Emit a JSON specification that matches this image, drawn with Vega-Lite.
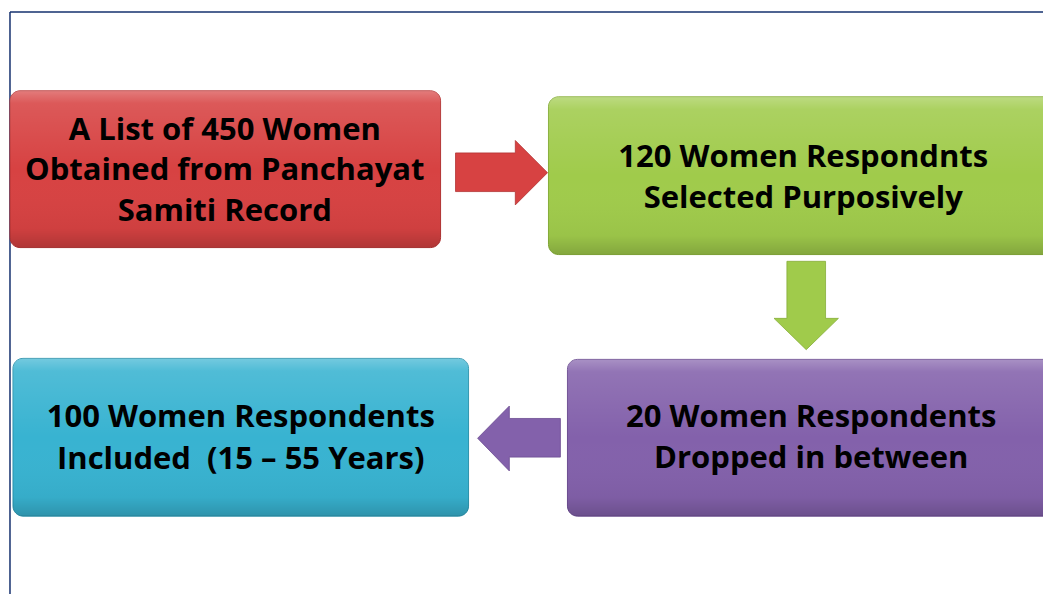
{
  "$schema": "https://vega.github.io/schema/vega-lite/v6.json",
  "width": 1044,
  "height": 595,
  "autosize": {"type": "fit", "contains": "padding"},
  "padding": 0,
  "background": "white",
  "config": {"view": {"stroke": null}},
  "datasets": {
    "boxes": [
      {"box": "red", "x0": 10, "x1": 441, "y0": 91, "y1": 248},
      {"box": "green", "x0": 549, "x1": 1064, "y0": 97, "y1": 255},
      {"box": "purple", "x0": 568, "x1": 1064, "y0": 360, "y1": 517},
      {"box": "blue", "x0": 13, "x1": 469, "y0": 359, "y1": 517}
    ],
    "arrows": [
      {"box": "red", "dir": "right", "x": 502, "y": 173},
      {"box": "green", "dir": "down", "x": 807, "y": 306},
      {"box": "purple", "dir": "left", "x": 519.5, "y": 439}
    ],
    "frame": [
      {"x": 10, "y": 12, "x2": 1044, "y2": 12},
      {"x": 10, "y": 12, "x2": 10, "y2": 595}
    ],
    "labels": [
      {"t": "A List of 450 Women", "x": 225, "y": 129},
      {"t": "Obtained from Panchayat", "x": 225, "y": 169},
      {"t": "Samiti Record", "x": 225, "y": 210},
      {"t": "120 Women Respondnts", "x": 804, "y": 156},
      {"t": "Selected Purposively", "x": 804, "y": 197},
      {"t": "20 Women Respondents", "x": 812, "y": 417},
      {"t": "Dropped in between", "x": 812, "y": 458},
      {"t": "100 Women Respondents", "x": 241, "y": 417},
      {"t": "Included \u00a0(15 – 55 Years)", "x": 241, "y": 459}
    ]
  },
  "layer": [
    {
      "data": {"name": "frame"},
      "mark": {"type": "rule", "color": "#15306e", "strokeWidth": 1.5},
      "encoding": {
        "x": {"field": "x", "type": "quantitative", "scale": {"domain": [0, 1044], "nice": false, "zero": false}, "axis": null},
        "y": {"field": "y", "type": "quantitative", "scale": {"domain": [0, 595], "nice": false, "zero": false, "reverse": true}, "axis": null},
        "x2": {"field": "x2"},
        "y2": {"field": "y2"}
      }
    },
    {
      "data": {"name": "boxes"},
      "mark": {"type": "rect", "cornerRadius": 11, "fill": "#000000", "opacity": 0.12, "xOffset": 3, "yOffset": 5, "clip": true},
      "encoding": {
        "x": {"field": "x0", "type": "quantitative", "scale": {"domain": [0, 1044], "nice": false, "zero": false}, "axis": null},
        "x2": {"field": "x1"},
        "y": {"field": "y0", "type": "quantitative", "scale": {"domain": [0, 595], "nice": false, "zero": false, "reverse": true}, "axis": null},
        "y2": {"field": "y1"}
      }
    },
    {
      "data": {"name": "boxes"},
      "mark": {"type": "rect", "cornerRadius": 10, "clip": true, "strokeWidth": 1},
      "encoding": {
        "x": {"field": "x0", "type": "quantitative", "axis": null},
        "x2": {"field": "x1"},
        "y": {"field": "y0", "type": "quantitative", "axis": null},
        "y2": {"field": "y1"},
        "color": {"field": "box", "type": "nominal", "legend": null,
          "scale": {"domain": ["red", "green", "purple", "blue"], "range": ["#d74242", "#a0cb4b", "#8361ab", "#38b3d1"]}},
        "stroke": {"field": "box", "type": "nominal", "legend": null,
          "scale": {"domain": ["red", "green", "purple", "blue"], "range": ["#b33333", "#86ad38", "#6c4d92", "#2d93ad"]}}
      }
    },
    {
      "data": {"name": "boxes"},
      "mark": {"type": "rect", "cornerRadius": 10, "clip": true,
        "fill": {"gradient": "linear", "x1": 0, "y1": 0, "x2": 0, "y2": 1,
          "stops": [
            {"offset": 0, "color": "rgba(255,255,255,0.30)"},
            {"offset": 0.08, "color": "rgba(255,255,255,0.12)"},
            {"offset": 0.5, "color": "rgba(255,255,255,0)"},
            {"offset": 0.88, "color": "rgba(0,0,0,0.04)"},
            {"offset": 1, "color": "rgba(0,0,0,0.18)"}
          ]}},
      "encoding": {
        "x": {"field": "x0", "type": "quantitative", "axis": null},
        "x2": {"field": "x1"},
        "y": {"field": "y0", "type": "quantitative", "axis": null},
        "y2": {"field": "y1"}
      }
    },
    {
      "data": {"name": "arrows"},
      "mark": {"type": "point", "filled": true, "opacity": 1, "size": 8464, "strokeWidth": 0.8},
      "encoding": {
        "x": {"field": "x", "type": "quantitative", "axis": null},
        "y": {"field": "y", "type": "quantitative", "axis": null},
        "shape": {"field": "dir", "type": "nominal", "legend": null,
          "scale": {"domain": ["right", "down", "left"], "range": [
            "M-1,-0.43 L0.3,-0.43 L0.3,-0.7 L1,0 L0.3,0.7 L0.3,0.41 L-1,0.41 Z",
            "M-0.42,-0.96 L0.42,-0.96 L0.42,0.28 L0.7,0.28 L0,0.96 L-0.7,0.28 L-0.42,0.28 Z",
            "M0.9,-0.43 L-0.21,-0.43 L-0.21,-0.7 L-0.9,0 L-0.21,0.71 L-0.21,0.41 L0.9,0.41 Z"
          ]}},
        "color": {"field": "box", "type": "nominal", "legend": null},
        "stroke": {"field": "box", "type": "nominal", "legend": null}
      }
    },
    {
      "data": {"name": "labels"},
      "mark": {"type": "text", "font": "Open Sans", "fontWeight": "bold", "fontSize": 31, "color": "#000000", "align": "center", "baseline": "middle", "dy": 2},
      "encoding": {
        "x": {"field": "x", "type": "quantitative", "axis": null},
        "y": {"field": "y", "type": "quantitative", "axis": null},
        "text": {"field": "t"}
      }
    }
  ]
}
